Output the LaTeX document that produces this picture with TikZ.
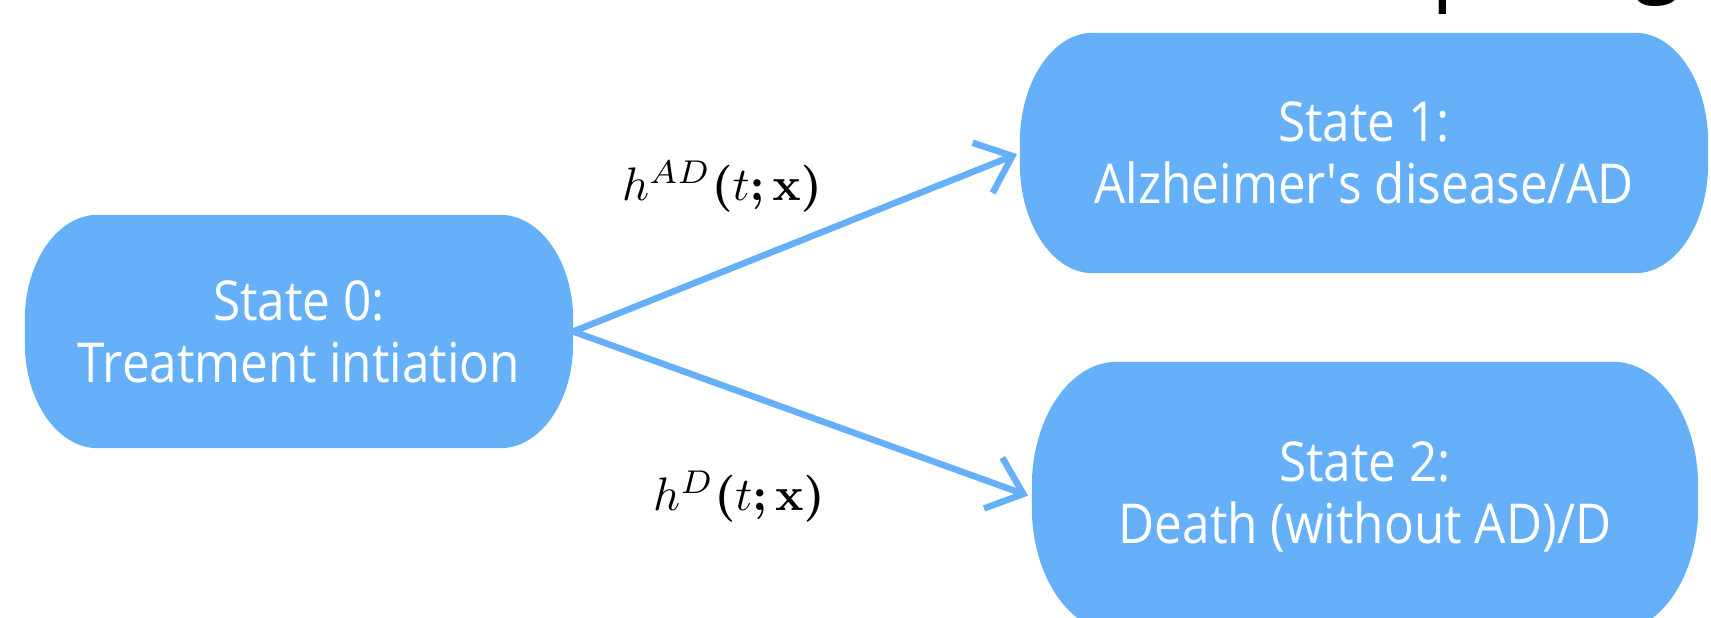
\documentclass[tikz,border=0pt]{standalone}
\usepackage{amsmath}
\usepackage[no-math]{fontspec}
\setmainfont[FakeStretch=0.9]{Open Sans}
\usetikzlibrary{arrows.meta,calc}
\definecolor{boxblue}{RGB}{102,176,250}
\pgfdeclarelayer{bg}
\pgfsetlayers{bg,main}
\tikzset{
  statebox/.style={rectangle, inner sep=0pt, text=white, align=center,
    font=\fontsize{55}{62}\selectfont},
  trans/.style={draw=boxblue, line width=6.5pt,
    -{Straight Barb[length=32pt,width=54pt]}},
  ratelbl/.style={inner sep=0pt, scale=4.7},
  fragtext/.style={anchor=base west, inner sep=0pt, font=\fontsize{100}{100}\selectfont},
}
\newcommand{\pillfill}[3]{%
  \fill[boxblue] let \p1=(#1.north west), \p2=(#1.south east) in
    ({\x1+#2},\y1) -- ({\x2-#2},\y1)
    arc[start angle=90,end angle=0,x radius=#2,y radius=#3]
    -- (\x2,{\y2+#3})
    arc[start angle=0,end angle=-90,x radius=#2,y radius=#3]
    -- ({\x1+#2},\y2)
    arc[start angle=270,end angle=180,x radius=#2,y radius=#3]
    -- (\x1,{\y1-#3})
    arc[start angle=180,end angle=90,x radius=#2,y radius=#3]
    -- cycle;}
\newcommand{\bsemi}{\mathpunct{\boldsymbol{;}}}
\begin{document}
\begin{tikzpicture}[x=1pt,y=-1pt]
\useasboundingbox (0,0) rectangle (1711,618);
\node[statebox, minimum width=548pt, minimum height=233pt] (s0) at (299,331.5)
  {State 0:\\Treatment intiation};
\node[statebox, minimum width=688pt, minimum height=240pt] (s1) at (1364,153)
  {State 1:\\Alzheimer\textquotesingle s disease/AD};
\node[statebox, minimum width=666pt, minimum height=270pt] (s2) at (1365,497)
  {State 2:\\Death (without AD)/D};
\begin{pgfonlayer}{bg}
  \pillfill{s0}{73pt}{105pt}
  \pillfill{s1}{73pt}{110pt}
  \pillfill{s2}{85pt}{125pt}
\end{pgfonlayer}
\draw[trans, shorten >=3pt] (s0.east) -- (s1.west);
\draw[trans, shorten >=4pt] (s0.east) -- (s2.west);
\node[ratelbl] (l1) at (722,187) {$h^{AD}\boldsymbol{(}t\bsemi\mathbf{x}\boldsymbol{)}$};
\node[ratelbl] (l2) at (739,497) {$h^{D}\boldsymbol{(}t\bsemi\mathbf{x}\boldsymbol{)}$};
\begin{scope}
  \clip (0,0) rectangle (1711,618);
  \node[fragtext] (frag1) at (1431,-9) {p};
  \node[fragtext] (frag2) at (1633,-17) {g};
\end{scope}
\end{tikzpicture}
\end{document}
